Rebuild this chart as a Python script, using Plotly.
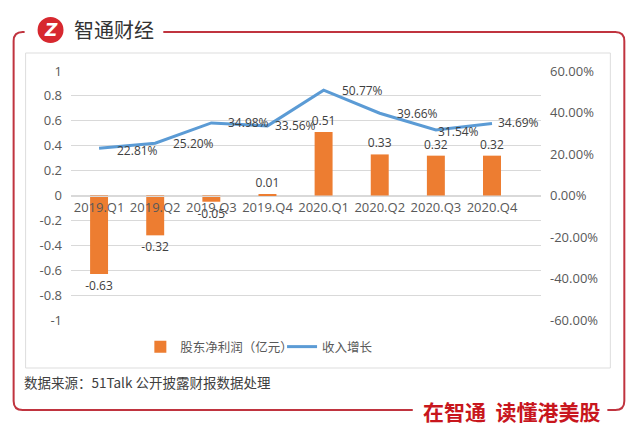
import plotly.graph_objects as go

categories = ["2019.Q1", "2019.Q2", "2019.Q3", "2019.Q4", "2020.Q1", "2020.Q2", "2020.Q3", "2020.Q4"]
net_profit = [-0.63, -0.32, -0.05, 0.01, 0.51, 0.33, 0.32, 0.32]
revenue_growth = [0.2281, 0.2520, 0.3498, 0.3356, 0.5077, 0.3966, 0.3154, 0.3469]
left_ticks = [1, 0.8, 0.6, 0.4, 0.2, 0, -0.2, -0.4, -0.6, -0.8, -1]
left_tick_labels = ["1", "0.8", "0.6", "0.4", "0.2", "0", "-0.2", "-0.4", "-0.6", "-0.8", "-1"]
right_ticks = [0.6, 0.4, 0.2, 0, -0.2, -0.4, -0.6]
right_tick_labels = ["60.00%", "40.00%", "20.00%", "0.00%", "-20.00%", "-40.00%", "-60.00%"]
bar_name = "股东净利润（亿元）"
line_name = "收入增长"
source_text = "数据来源：51Talk 公开披露财报数据处理"
brand_text = "智通财经"
slogan_text = "在智通  读懂港美股"

# label offsets (pixels) for the growth-rate labels, as placed in the original
label_xshift = [16, 16, 15, 6, 16, 15, 0, 4]
label_yshift = [-2, 0, 0, 0, 0, 0, -1, 1]

W, H = 640, 437
ML, MR, MT, MB = 70.5, 98.5, 71, 117
PW, PH = W - ML - MR, H - MT - MB


def px(x):
    return (x - ML) / PW


def py(y):
    return (H - MB - y) / PH


BAR = "#ED7D31"
LINE = "#5B9BD5"
TXT = "#595959"
RED = "#C0343F"
NUMFONT = "Open Sans, Liberation Sans, sans-serif"
CJK = "Noto Sans CJK SC, sans-serif"

fig = go.Figure()
fig.add_trace(go.Bar(
    x=categories, y=net_profit, name=bar_name,
    marker=dict(color=BAR, line=dict(width=0)), width=0.32,
    text=[f"{v:.2f}" for v in net_profit], textposition="outside",
    constraintext="none",
    textfont=dict(family=NUMFONT, size=12, color="#404040"),
    cliponaxis=False, yaxis="y", legend="legend",
))
fig.add_trace(go.Scatter(
    x=categories, y=revenue_growth, name=line_name, mode="lines",
    line=dict(color=LINE, width=3),
    cliponaxis=False, yaxis="y2", legend="legend2",
))

frame_left = (f"M {px(24)},{py(32)} L {px(22)},{py(32)} Q {px(13)},{py(32)} {px(13)},{py(41)} "
              f"L {px(13)},{py(401)} Q {px(13)},{py(410)} {px(22)},{py(410)} L {px(413)},{py(410)}")
frame_right = (f"M {px(163)},{py(32)} L {px(616)},{py(32)} Q {px(625)},{py(32)} {px(625)},{py(41)} "
               f"L {px(625)},{py(401)} Q {px(625)},{py(410)} {px(616)},{py(410)} L {px(608)},{py(410)}")
shapes = [
    dict(type="rect", xref="paper", yref="paper", x0=px(25), x1=px(611), y0=py(53), y1=py(368),
         line=dict(color="#DDDDDD", width=1), fillcolor="rgba(0,0,0,0)", layer="below"),
    dict(type="path", xref="paper", yref="paper", path=frame_left, line=dict(color=RED, width=2)),
    dict(type="path", xref="paper", yref="paper", path=frame_right, line=dict(color=RED, width=2)),
    dict(type="circle", xref="paper", yref="paper", x0=px(37), x1=px(63), y0=py(17), y1=py(43),
         line=dict(width=0), fillcolor="#D7282F"),
]

annotations = [
    dict(text="<b><i>Z</i></b>", x=px(50), y=py(30), xref="paper", yref="paper", showarrow=False,
         font=dict(family="DejaVu Sans", size=17, color="white"), xanchor="center", yanchor="middle"),
    dict(text=brand_text, x=px(72), y=py(30), xref="paper", yref="paper", showarrow=False,
         font=dict(family=CJK, size=20, color="#333333"), xanchor="left", yanchor="middle"),
    dict(text=source_text, x=px(21), y=py(382), xref="paper", yref="paper", showarrow=False,
         font=dict(family=CJK, size=13.5, color="#404040"), xanchor="left", yanchor="middle"),
    dict(text="<b>" + slogan_text + "</b>", x=px(512), y=py(411), xref="paper", yref="paper", showarrow=False,
         font=dict(family=CJK, size=21, color="#C8161D"), xanchor="center", yanchor="middle",
         bgcolor="white"),
]
for cat, val, dx, dy in zip(categories, revenue_growth, label_xshift, label_yshift):
    annotations.append(dict(
        text=f"{val*100:.2f}%", x=cat, y=val, xref="x", yref="y2", showarrow=False,
        xanchor="left", yanchor="middle", xshift=dx, yshift=dy,
        font=dict(family=NUMFONT, size=12, color="#404040"),
    ))

fig.update_layout(
    width=W, height=H,
    margin=dict(l=ML, r=MR, t=MT, b=MB, autoexpand=False),
    paper_bgcolor="white", plot_bgcolor="white",
    showlegend=True,
    legend=dict(orientation="h", x=px(140), y=py(347), xanchor="left", yanchor="middle",
                font=dict(family=CJK, size=12.5, color=TXT), bgcolor="rgba(0,0,0,0)",
                itemwidth=30),
    legend2=dict(orientation="h", x=px(282), y=py(347), xanchor="left", yanchor="middle",
                 font=dict(family=CJK, size=12.5, color=TXT), bgcolor="rgba(0,0,0,0)",
                 itemwidth=30),
    xaxis=dict(type="category", anchor="free", position=0.5, showgrid=False,
               showline=True, linecolor="#D9D9D9", linewidth=1, ticks="",
               tickfont=dict(family=NUMFONT, size=13, color=TXT), fixedrange=True),
    yaxis=dict(range=[-1, 1], tickvals=left_ticks, ticktext=left_tick_labels,
               showgrid=True, gridcolor="#D9D9D9", gridwidth=1,
               zeroline=True, zerolinecolor="#D9D9D9", zerolinewidth=1,
               tickfont=dict(family=NUMFONT, size=13, color=TXT), ticks="", ticklabelstandoff=8),
    yaxis2=dict(range=[-0.6, 0.6], overlaying="y", side="right", tickvals=right_ticks,
                ticktext=right_tick_labels, showgrid=False, zeroline=False,
                tickfont=dict(family=NUMFONT, size=13, color=TXT), ticks="", ticklabelstandoff=8),
    shapes=shapes,
    annotations=annotations,
)

fig.write_html("out.html", config={"displayModeBar": False},
               post_script="document.body.style.margin='0';document.body.style.padding='0';")
